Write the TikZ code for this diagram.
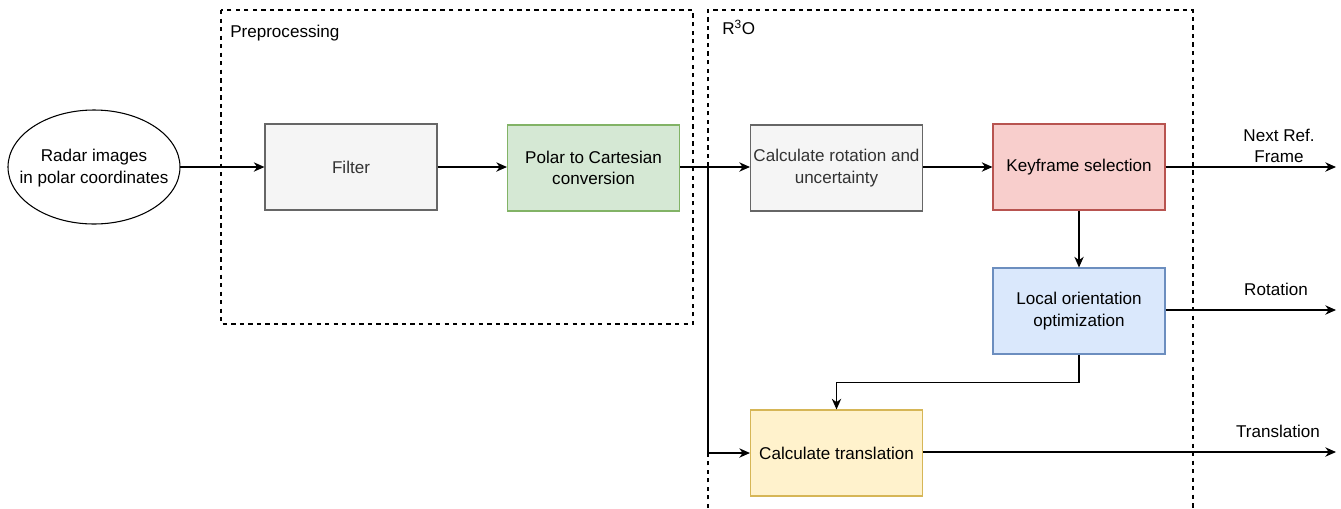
\documentclass[tikz,border=0pt]{standalone}
\usepackage{fontspec}
\setmainfont{Liberation Sans}
\usetikzlibrary{arrows.meta}
\definecolor{grayfill}{HTML}{F5F5F5}
\definecolor{graydraw}{HTML}{666666}
\definecolor{graytext}{HTML}{333333}
\definecolor{greenfill}{HTML}{D5E8D4}
\definecolor{greendraw}{HTML}{82B366}
\definecolor{redfill}{HTML}{F8CECC}
\definecolor{reddraw}{HTML}{B85450}
\definecolor{bluefill}{HTML}{DAE8FC}
\definecolor{bluedraw}{HTML}{6C8EBF}
\definecolor{yellowfill}{HTML}{FFF2CC}
\definecolor{yellowdraw}{HTML}{D6B656}
\tikzset{
  every node/.style={font=\fontsize{12.8}{16}\selectfont, align=center},
  procbox/.style={rectangle, minimum width=129pt, minimum height=64.5pt, inner sep=1pt, line width=0.8pt},
  graybox/.style={procbox, fill=grayfill, draw=graydraw, text=graytext},
  greenbox/.style={procbox, fill=greenfill, draw=greendraw},
  redbox/.style={procbox, fill=redfill, draw=reddraw},
  bluebox/.style={procbox, fill=bluefill, draw=bluedraw},
  yellowbox/.style={procbox, fill=yellowfill, draw=yellowdraw},
  flow/.style={draw=black, line width=1pt, -{Stealth[length=8pt,width=7pt,inset=2.5pt]}},
  groupframe/.style={draw=black, line width=0.8pt, dash pattern=on 3.2pt off 3.2pt},
  grouplabel/.style={anchor=base west, inner sep=0pt},
  outlabel/.style={inner sep=0pt}
}
\begin{document}
\begin{tikzpicture}[x=0.75pt, y=-0.75pt]
  \useasboundingbox (0,0) rectangle (1341,508);

  % group frames
  \draw[groupframe] (221,10) rectangle (693,324);
  \draw[groupframe] (708,508) -- (708,10) -- (1193,10) -- (1193,508);
  \node[grouplabel] (prelabel) at (230,37) {Preprocessing};
  \node[grouplabel] (r3olabel) at (722,34) {R\textsuperscript{3}O};

  % input: text area sized to the ellipse, outline drawn around it
  \node[rectangle, minimum width=129pt, minimum height=85.5pt, inner sep=0pt]
    (input) at (94,168) {Radar images\\in polar coordinates};
  \draw[line width=0.8pt] (94,167) ellipse [x radius=86, y radius=57];

  % processing blocks
  \node[graybox]   (filter) at (351,167)   {Filter};
  \node[greenbox]  (polar)  at (593.5,168) {Polar to Cartesian\\conversion};
  \node[graybox]   (calcrot) at (836.5,168) {Calculate rotation and\\uncertainty};
  \node[redbox]    (keyframe) at (1079,167) {Keyframe selection};
  \node[bluebox]   (localopt) at (1079,311) {Local orientation\\optimization};
  \node[yellowbox] (calctr) at (836.5,453) {Calculate translation};

  % branch point and output ends
  \coordinate (split) at (708,167);
  \coordinate (outref) at (1336,167);
  \coordinate (outrot) at (1336,310);
  \coordinate (outtr) at (1336,452);

  % connectors
  \draw[flow] (input.east |- split) -- (filter.west |- split);
  \draw[flow] (filter.east) -- (polar.west |- split);
  \draw[flow] (polar.east |- split) -- (calcrot.west |- split);
  \draw[flow] (split) |- (calctr.west);
  \draw[flow] (calcrot.east |- split) -- (keyframe.west);
  \draw[flow] (keyframe.south) -- (localopt.north);
  \draw[flow] (localopt.south) -- ++(0,28) -| (calctr.north);
  \draw[flow] (keyframe.east) -- (outref);
  \draw[flow] (localopt.east |- outrot) -- (outrot);
  \draw[flow] (calctr.east |- outtr) -- (outtr);

  % output labels
  \node[outlabel] (lblref) at (1279,146) {Next Ref.\\Frame};
  \node[outlabel] (lblrot) at (1276,289) {Rotation};
  \node[outlabel] (lbltr) at (1278,431) {Translation};
\end{tikzpicture}
\end{document}
